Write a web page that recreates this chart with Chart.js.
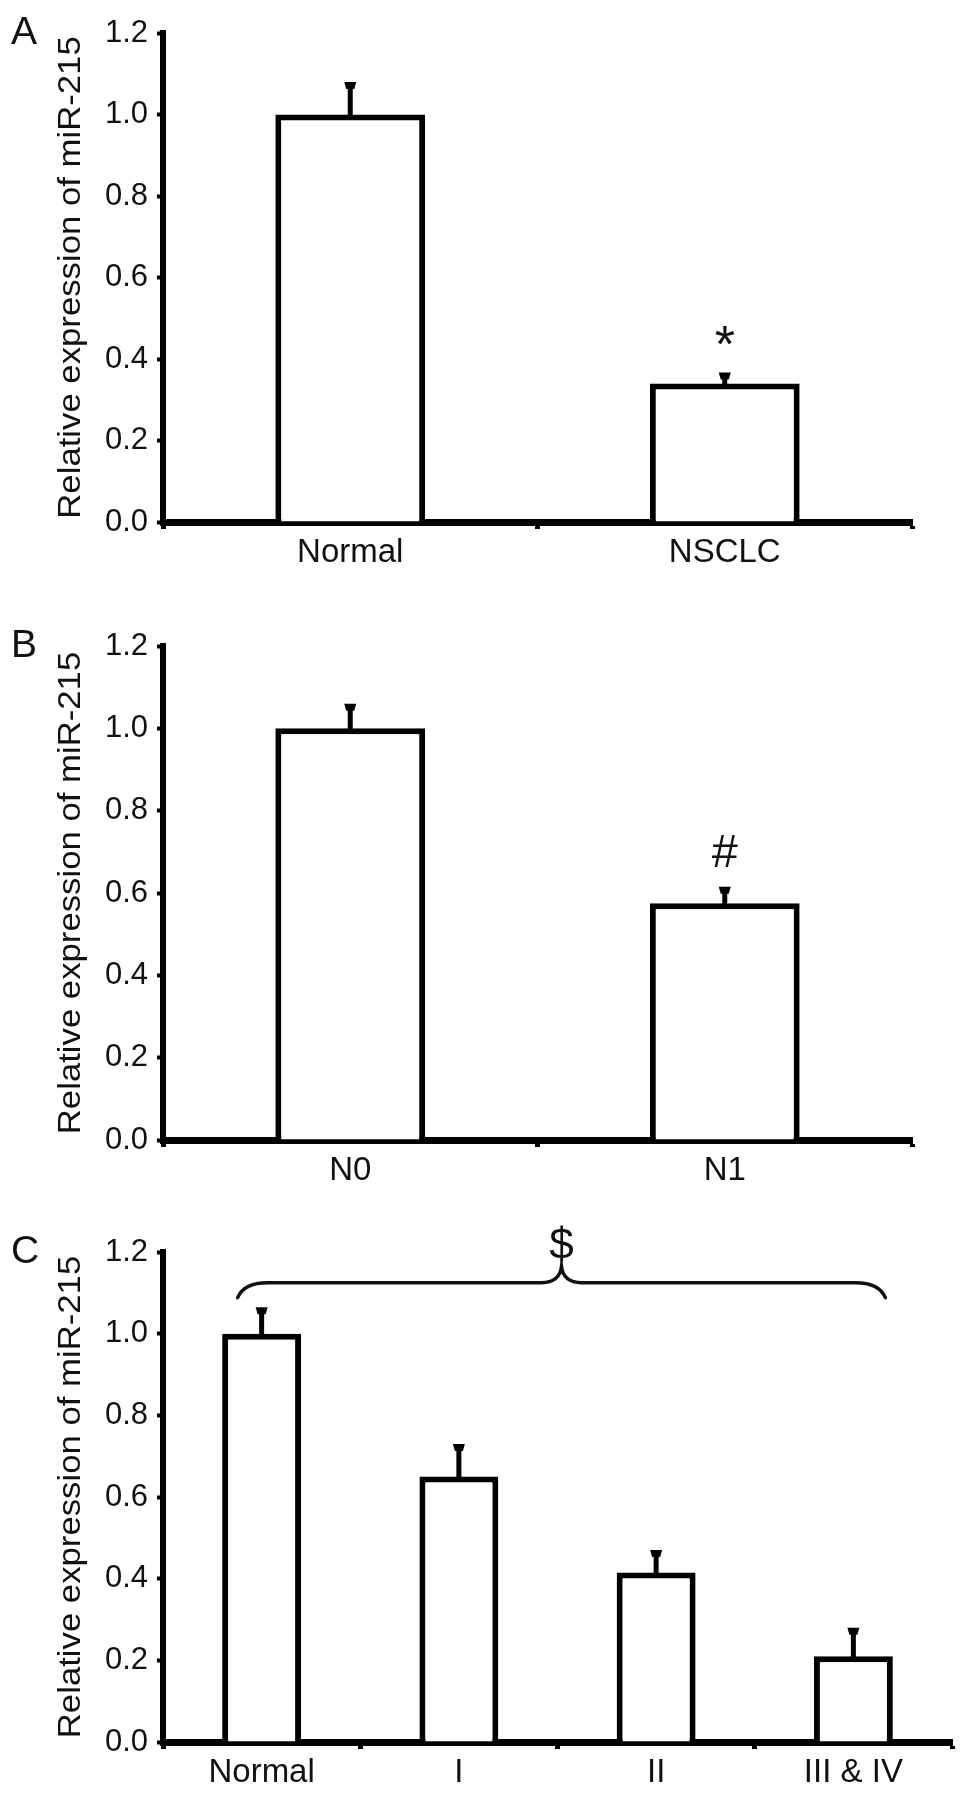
<!DOCTYPE html>
<html>
<head>
<meta charset="utf-8">
<script src="https://cdn.jsdelivr.net/npm/chart.js@4.4.1/dist/chart.umd.min.js"></script>
<style>
  html, body { margin: 0; padding: 0; background: #fff; }
  body { width: 969px; height: 1797px; position: relative; overflow: hidden; }
  .panel { position: absolute; left: 0; width: 969px; }
  canvas { display: block; }
</style>
</head>
<body>
<div class="panel" style="top:0px;height:590px"><canvas id="chartA" width="969" height="590"></canvas></div>
<div class="panel" style="top:590px;height:600px"><canvas id="chartB" width="969" height="600"></canvas></div>
<div class="panel" style="top:1190px;height:607px"><canvas id="chartC" width="969" height="607"></canvas></div>
<script>
// ---- data ----
const yLabel = 'Relative expression of miR-215';
const yMin = 0;
const yMax = 1.2;
const yStep = 0.2;

const panelALabels = ['Normal', 'NSCLC'];
const panelAValues = [1.0, 0.34];
const panelAErrors = [0.08, 0.027];

const panelBLabels = ['N0', 'N1'];
const panelBValues = [1.0, 0.575];
const panelBErrors = [0.06, 0.04];

const panelCLabels = ['Normal', 'I', 'II', 'III & IV'];
const panelCValues = [1.0, 0.65, 0.415, 0.21];
const panelCErrors = [0.065, 0.08, 0.055, 0.07];

const FONT = '"Liberation Sans", Arial, Helvetica, sans-serif';
const INK = '#111';

// ---- plugins ----
const errorBarPlugin = {
  id: 'errorBars',
  afterDatasetsDraw(chart, args, opts) {
    const ctx = chart.ctx;
    const ys = chart.scales.y;
    const meta = chart.getDatasetMeta(0);
    ctx.save();
    ctx.strokeStyle = '#000';
    ctx.fillStyle = '#000';
    meta.data.forEach((bar, i) => {
      const top = ys.getPixelForValue(opts.values[i] + opts.errors[i]);
      ctx.lineWidth = 5;
      ctx.beginPath();
      ctx.moveTo(bar.x, bar.y + 2);
      ctx.lineTo(bar.x, top + 3);
      ctx.stroke();
      ctx.beginPath();
      ctx.moveTo(bar.x - 6, top);
      ctx.lineTo(bar.x + 6, top);
      ctx.lineTo(bar.x + 4, top + 7);
      ctx.lineTo(bar.x - 4, top + 7);
      ctx.closePath();
      ctx.fill();
    });
    ctx.restore();
  }
};

const decorPlugin = {
  id: 'decor',
  afterDraw(chart, args, opts) {
    const ctx = chart.ctx;
    const ca = chart.chartArea;
    const xs = chart.scales.x;
    const ys = chart.scales.y;
    ctx.save();
    ctx.fillStyle = INK;
    // panel letter
    ctx.font = '39px ' + FONT;
    ctx.textAlign = 'left';
    ctx.textBaseline = 'alphabetic';
    ctx.fillText(opts.letter, 11, ca.top + 11);
    // y axis title (slightly stretched along its length like the original)
    ctx.save();
    ctx.translate(71, (ca.top + ca.bottom) / 2);
    ctx.rotate(-Math.PI / 2);
    ctx.scale(1.12, 1);
    ctx.font = '31px ' + FONT;
    ctx.textAlign = 'center';
    ctx.textBaseline = 'middle';
    ctx.fillText(yLabel, 0, 0);
    ctx.restore();
    // significance marks
    (opts.marks || []).forEach(m => {
      ctx.font = m.size + 'px ' + FONT;
      ctx.textAlign = 'center';
      ctx.textBaseline = 'alphabetic';
      const x = xs.getPixelForValue(m.index);
      const y = ys.getPixelForValue(opts.values[m.index] + opts.errors[m.index]) - m.gap;
      ctx.fillText(m.text, x, y);
    });
    // curly bracket
    if (opts.bracket) {
      const b = opts.bracket;
      const L = xs.getPixelForValue(b.from) - 24;
      const R = xs.getPixelForValue(b.to) + 32;
      const M = (L + R) / 2;
      const yH = ys.getPixelForValue(b.level);
      const yE = yH + 15;
      const yP = yH - 16;
      ctx.strokeStyle = INK;
      ctx.lineWidth = 3.5;
      ctx.lineCap = 'round';
      ctx.beginPath();
      ctx.moveTo(L, yE);
      ctx.quadraticCurveTo(L + 6, yH, L + 30, yH);
      ctx.lineTo(M - 20, yH);
      ctx.quadraticCurveTo(M - 2, yH, M, yP);
      ctx.quadraticCurveTo(M + 2, yH, M + 20, yH);
      ctx.lineTo(R - 30, yH);
      ctx.quadraticCurveTo(R - 6, yH, R, yE);
      ctx.stroke();
      ctx.font = '44px ' + FONT;
      ctx.textAlign = 'center';
      ctx.textBaseline = 'alphabetic';
      ctx.fillText(b.text, M, yP - 8);
    }
    ctx.restore();
  }
};

function makePanel(id, labels, values, errors, layout, decor) {
  const ctx = document.getElementById(id).getContext('2d');
  return new Chart(ctx, {
    type: 'bar',
    data: {
      labels: labels,
      datasets: [{
        data: values,
        backgroundColor: '#ffffff',
        borderColor: '#000000',
        borderWidth: 6,
        borderSkipped: 'start',
        barPercentage: 0.4,
        categoryPercentage: 1.0
      }]
    },
    options: {
      responsive: false,
      animation: false,
      layout: { padding: { top: layout.top, right: layout.right, left: 0, bottom: 0 } },
      plugins: {
        legend: { display: false },
        tooltip: { enabled: false },
        errorBars: { values: values, errors: errors },
        decor: Object.assign({ values: values, errors: errors }, decor)
      },
      scales: {
        x: {
          offset: true,
          grid: { display: true, offset: true, drawOnChartArea: false, drawTicks: true, tickLength: 7, tickWidth: 5, tickColor: '#000' },
          border: { display: true, color: '#000', width: 7 },
          ticks: { font: { family: FONT, size: 33 }, color: INK, padding: 4, maxRotation: 0, autoSkip: false },
          afterFit(s) { s.height = layout.xh; }
        },
        y: {
          min: yMin,
          max: yMax,
          grid: { display: true, drawOnChartArea: false, drawTicks: true, tickLength: 6, tickWidth: 4, tickColor: '#000' },
          border: { display: true, color: '#000', width: 6 },
          ticks: { stepSize: yStep, font: { family: FONT, size: 31 }, color: INK, padding: 9,
                   callback: v => Number(v).toFixed(1) },
          afterFit(s) { s.width = 163; }
        }
      }
    },
    plugins: [errorBarPlugin, decorPlugin]
  });
}

makePanel('chartA', panelALabels, panelAValues, panelAErrors,
  { top: 33, right: 57, xh: 68 },
  { letter: 'A', marks: [{ text: '*', index: 1, gap: 10, size: 52 }] });

makePanel('chartB', panelBLabels, panelBValues, panelBErrors,
  { top: 56, right: 57, xh: 50 },
  { letter: 'B', marks: [{ text: '#', index: 1, gap: 20, size: 47 }] });

makePanel('chartC', panelCLabels, panelCValues, panelCErrors,
  { top: 62, right: 17, xh: 55 },
  { letter: 'C', bracket: { from: 0, to: 3, level: 1.125, text: '$' } });
</script>
</body>
</html>
